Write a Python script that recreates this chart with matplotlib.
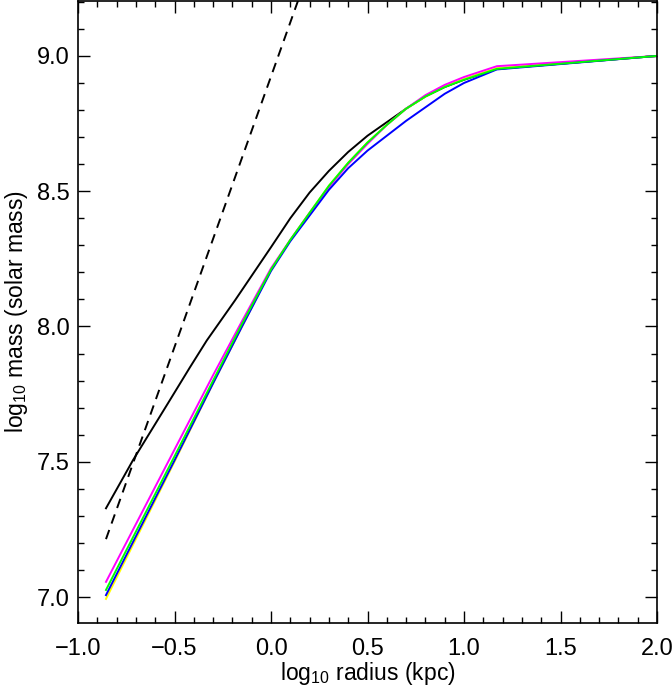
import matplotlib
matplotlib.use('Agg')
import matplotlib.pyplot as plt
from matplotlib.ticker import MultipleLocator, FuncFormatter

plt.rcParams['font.family'] = ['Liberation Sans', 'DejaVu Sans']
plt.rcParams['mathtext.fontset'] = 'custom'
plt.rcParams['mathtext.rm'] = 'Liberation Sans'
plt.rcParams['mathtext.it'] = 'Liberation Sans'

# ---------------------------------------------------------------
# Data (log10 radius in kpc, log10 mass)
# ---------------------------------------------------------------
black_x = [-0.855, -0.715, -0.534, -0.42, -0.333, -0.187, 0.0, 0.1, 0.2,
           0.3, 0.4, 0.5, 0.6, 0.7, 0.8, 0.9, 1.0, 1.17, 2.0]
black_y = [7.328, 7.506, 7.716, 7.849, 7.948, 8.096, 8.293, 8.40, 8.495,
           8.575, 8.645, 8.705, 8.755, 8.805, 8.85, 8.885, 8.912, 8.952, 9.0]

dash_x = [-0.855, 0.25]
dash_y = [7.214, 9.424]

curve_x = [-0.855, -0.5, -0.3, -0.15, 0.0, 0.1, 0.2, 0.3, 0.4, 0.5, 0.6,
           0.7, 0.8, 0.9, 1.0, 1.17, 2.0]
yellow_y = [6.993, 7.50, 7.79, 8.00, 8.21, 8.32, 8.42, 8.52, 8.605, 8.68, 8.745,
            8.805, 8.85, 8.887, 8.915, 8.955, 9.0]
magenta_y = [7.056, 7.545, 7.82, 8.02, 8.215, 8.32, 8.42, 8.515, 8.60, 8.675, 8.745,
             8.805, 8.855, 8.893, 8.922, 8.962, 9.0]
blue_y = [7.007, 7.505, 7.79, 8.00, 8.205, 8.315, 8.41, 8.505, 8.585, 8.65, 8.705,
          8.76, 8.81, 8.86, 8.900, 8.95, 9.0]
green_y = [7.026, 7.52, 7.80, 8.01, 8.21, 8.32, 8.42, 8.52, 8.605, 8.68, 8.745,
           8.805, 8.85, 8.885, 8.912, 8.952, 9.0]

fig = plt.figure(figsize=(6.72, 6.89), dpi=100)
ax = fig.add_axes([78 / 672, 1 - 623 / 689, 579 / 672, 622 / 689])

lw = 1.4
ax.plot(dash_x, dash_y, color='black', lw=lw, dashes=(5, 3.5))
ax.plot(black_x, black_y, color='black', lw=lw)
ax.plot(curve_x, yellow_y, color='#ffff00', lw=lw)
ax.plot(curve_x, magenta_y, color='#ff00ff', lw=lw)
ax.plot(curve_x, blue_y, color='#0000ff', lw=lw)
ax.plot(curve_x, green_y, color='#00ff00', lw=lw)

ax.set_xlim(-1.0, 2.0)
ax.set_ylim(6.904, 9.203)
ax.xaxis.set_major_locator(MultipleLocator(0.5))
ax.xaxis.set_minor_locator(MultipleLocator(0.1))
ax.yaxis.set_major_locator(MultipleLocator(0.5))
ax.yaxis.set_minor_locator(MultipleLocator(0.1))
fmt = FuncFormatter(lambda v, pos: f'{v:.1f}'.replace('-', '\u2212'))
ax.xaxis.set_major_formatter(fmt)
ax.yaxis.set_major_formatter(fmt)

ax.tick_params(which='both', direction='in', top=True, right=True,
               width=1.0, labelsize=17)
ax.tick_params(which='major', length=8.5)
ax.tick_params(which='minor', length=4.5)
ax.tick_params(axis='x', pad=11)
ax.tick_params(axis='y', pad=6)
for s in ax.spines.values():
    s.set_linewidth(1.2)

ax.set_xlabel('log$_{10}$ radius (kpc)', fontsize=16.5, labelpad=0)
ax.set_ylabel('log$_{10}$ mass (solar mass)', fontsize=16.5, labelpad=5)

fig.savefig('out.png', dpi=100)
